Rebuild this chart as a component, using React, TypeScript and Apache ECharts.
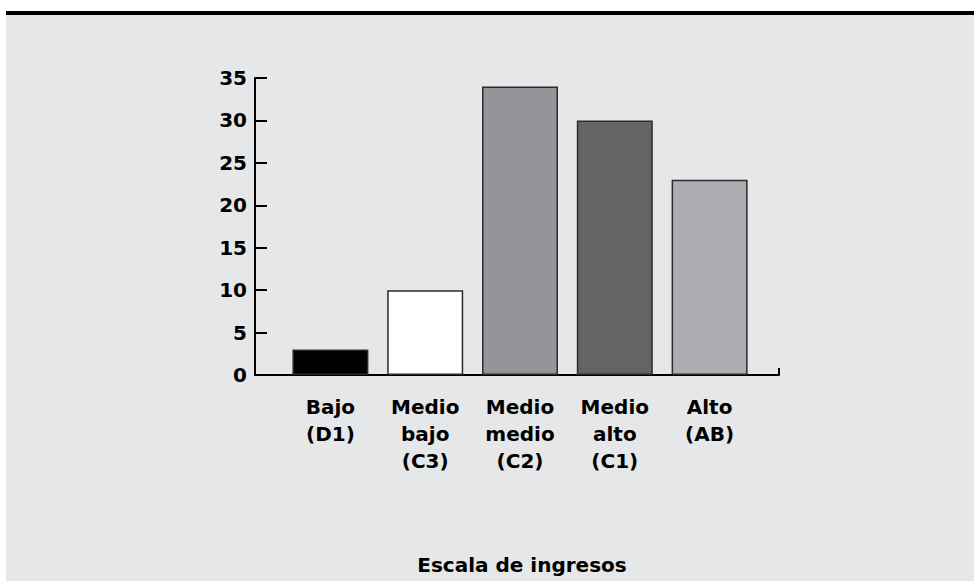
import React, { useEffect, useRef } from "react";
import * as echarts from "echarts";

const categories = ["Bajo\n(D1)", "Medio\nbajo\n(C3)", "Medio\nmedio\n(C2)", "Medio\nalto\n(C1)", "Alto\n(AB)"];
const values = [3, 10, 34, 30, 23];
const barColors = ["#000000", "#ffffff", "#939598", "#636466", "#acadb0"];
const yTicks = { min: 0, max: 35, interval: 5 };
const axisTitle = "Escala de ingresos";

const FONT = "DejaVu Sans";

export default function App() {
  const ref = useRef<HTMLDivElement>(null);
  useEffect(() => {
    if (!ref.current) return;
    const chart = echarts.init(ref.current, undefined, { renderer: "svg" });
    chart.setOption({
      animation: false,
      backgroundColor: "#ffffff",
      graphic: [
        { type: "rect", shape: { x: 6, y: 15, width: 968, height: 566 }, style: { fill: "#e6e7e8" }, z: -10 },
        { type: "rect", shape: { x: 6, y: 11, width: 968, height: 4 }, style: { fill: "#000000" }, z: -10 },
        {
          type: "text",
          x: 522,
          y: 565,
          style: {
            text: axisTitle,
            fontFamily: FONT,
            fontWeight: "bold",
            fontSize: 20,
            fill: "#000",
            textAlign: "center",
            textVerticalAlign: "middle",
          },
        },
      ],
      grid: [
        { left: 255, top: 78, width: 524, height: 297 },
        { left: 283, top: 78, width: 474, height: 297 },
      ],
      xAxis: [
        {
          type: "value",
          gridIndex: 0,
          min: 0,
          max: 1,
          interval: 1,
          axisLine: { show: true, lineStyle: { color: "#000", width: 2 } },
          axisTick: { show: true, inside: true, length: 7, lineStyle: { color: "#000", width: 2 } },
          axisLabel: { show: false },
          splitLine: { show: false },
        },
        {
          type: "category",
          gridIndex: 1,
          data: categories,
          axisLine: { show: false },
          axisTick: { show: false },
          axisLabel: {
            interval: 0,
            margin: 18,
            color: "#000",
            fontFamily: FONT,
            fontWeight: "bold",
            fontSize: 20,
            lineHeight: 27,
            align: "center",
          },
        },
      ],
      yAxis: [
        {
          type: "value",
          gridIndex: 0,
          min: yTicks.min,
          max: yTicks.max,
          interval: yTicks.interval,
          axisLine: { show: true, lineStyle: { color: "#000", width: 2 } },
          axisTick: { show: true, inside: true, length: 12, lineStyle: { color: "#000", width: 2 } },
          axisLabel: { color: "#000", fontFamily: FONT, fontWeight: "bold", fontSize: 20, margin: 8 },
          splitLine: { show: false },
        },
        {
          type: "value",
          gridIndex: 1,
          min: yTicks.min,
          max: yTicks.max,
          interval: yTicks.interval,
          show: false,
        },
      ],
      series: [
        {
          type: "bar",
          xAxisIndex: 1,
          yAxisIndex: 1,
          barWidth: 76,
          data: values.map((v, i) => ({
            value: v,
            itemStyle: { color: barColors[i], borderColor: "#2b2b2b", borderWidth: 1.5 },
          })),
        },
      ],
    });
    return () => chart.dispose();
  }, []);
  return (
    <div
      ref={ref}
      style={{ position: "absolute", left: 0, top: 0, width: 974, height: 581 }}
    />
  );
}
